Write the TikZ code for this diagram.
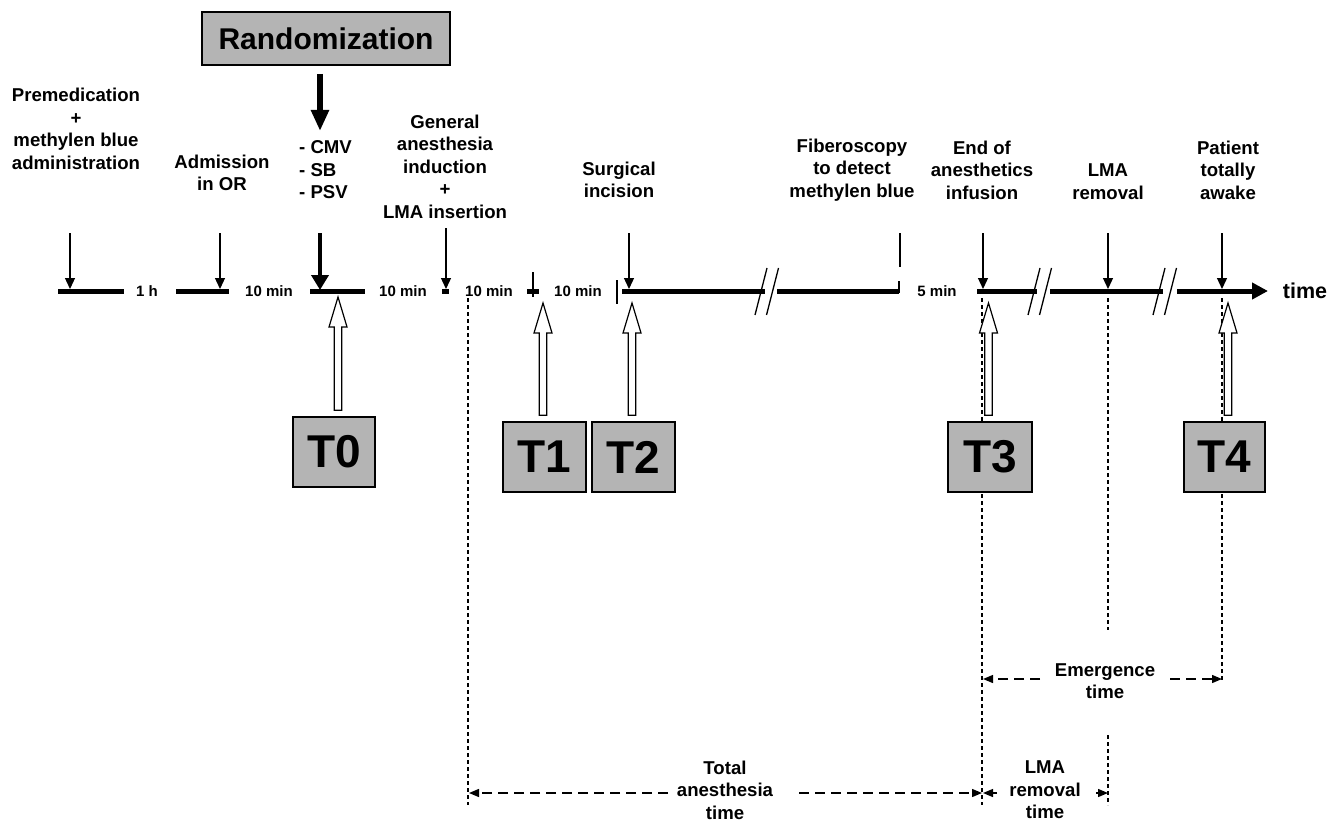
\documentclass[tikz,border=0pt]{standalone}
\usepackage{fontspec}
\setmainfont{Liberation Sans}
\usetikzlibrary{arrows.meta,calc}
\definecolor{boxgray}{RGB}{180,180,180}
\begin{document}
\begin{tikzpicture}[x=1pt,y=-1pt,
  lbl/.style={font=\fontsize{18.6}{22.5}\selectfont\bfseries, align=center, inner sep=0pt},
  dur/.style={font=\fontsize{15}{18}\selectfont\bfseries, inner sep=0pt},
  tbox/.style={draw, fill=boxgray, line width=1.5pt, minimum width=83pt, minimum height=70pt, inner sep=0pt, font=\fontsize{46}{46}\selectfont\bfseries},
  seg/.style={line width=5pt},
  evarrow/.style={line width=1.3pt, -{Triangle[width=10pt,length=11pt]}},
  bigev/.style={line width=4.5pt, -{Triangle[width=17pt,length=15pt]}},
  marker/.style={line width=1.5pt},
  vdash/.style={line width=1.2pt, dash pattern=on 4pt off 3pt},
  dimarrow/.style={line width=1.3pt, dash pattern=on 10pt off 6pt, -{Triangle[width=8pt,length=10pt]}},
  hollow/.style={line width=1.2pt, fill=white, line join=miter}
]
\useasboundingbox[fill=white] (0,0) rectangle (1327,821);

% ---------- top labels ----------
\node[draw, fill=boxgray, line width=1.5pt, minimum width=248pt, minimum height=53pt, inner sep=0pt,
      font=\fontsize{30}{30}\selectfont\bfseries] (rand) at (326,38.5) {Randomization};
\node[lbl] (premed) at (76,129) {Premedication\\+\\methylen blue\\administration};
\node[lbl] (admis) at (222,173) {Admission\\in OR};
\node[lbl, align=left, anchor=west] (modes) at (299,170) {- CMV\\- SB\\- PSV};
\node[lbl] (gai) at (445,166.5) {General\\anesthesia\\induction\\+\\LMA insertion};
\node[lbl] (surg) at (619,180) {Surgical\\incision};
\node[lbl] (fibro) at (852,170) {Fiberoscopy\\to detect\\methylen blue};
\node[lbl] (endan) at (982,170) {End of\\anesthetics\\infusion};
\node[lbl] (lmar) at (1108,181.5) {LMA\\removal};
\node[lbl] (pat) at (1228,170) {Patient\\totally\\awake};

% randomization arrow
\coordinate (r1) at (320,74);
\coordinate (r2) at (320,131);
\draw[line width=6pt, -{Triangle[width=17pt,length=21pt]}] (r1) -- (r2);

% ---------- timeline segments ----------
\draw[seg] (58,291) -- (124,291);
\draw[seg] (176,291) -- (229,291);
\draw[seg] (310,291) -- (365,291);
\draw[seg] (442,291) -- (449,291);
\draw[seg] (527,291) -- (539,291);
\draw[seg] (622,291) -- (765,291);
\draw[seg] (777,291) -- (899,291);
\draw[line width=2pt] (899,293) -- (899,281);
\draw[seg] (977,291) -- (1037,291);
\draw[seg] (1050,291) -- (1163,291);
\draw[seg, -{Triangle[width=16pt,length=16pt]}] (1177,291) -- (1268,291);
\node[font=\fontsize{21.5}{21.5}\selectfont\bfseries, inner sep=0pt] (timelbl) at (1305,291) {time};

% breaks
\foreach \bx in {755,1028,1153}{
  \draw[line width=1.3pt] (\bx,315) -- (\bx+12,268);
  \draw[line width=1.3pt] (\bx+11.5,315) -- (\bx+23.5,268);
}

% duration labels
\node[dur] (d1) at (147,291) {1 h};
\node[dur] (d2) at (269,291) {10 min};
\node[dur] (d3) at (403,291) {10 min};
\node[dur] (d4) at (489,291) {10 min};
\node[dur] (d5) at (578,291) {10 min};
\node[dur] (d6) at (937,291) {5 min};

% ---------- event arrows ----------
\coordinate (e1a) at (70,233);   \coordinate (e1b) at (70,289);
\coordinate (e2a) at (220,233);  \coordinate (e2b) at (220,289);
\coordinate (e3a) at (320,233);  \coordinate (e3b) at (320,290);
\coordinate (e4a) at (446,228);  \coordinate (e4b) at (446,289);
\coordinate (e6a) at (629,233);  \coordinate (e6b) at (629,289);
\coordinate (e8a) at (983,233);  \coordinate (e8b) at (983,289);
\coordinate (e9a) at (1108,233); \coordinate (e9b) at (1108,289);
\coordinate (e10a) at (1222,233); \coordinate (e10b) at (1222,289);
\draw[evarrow] (e1a) -- (e1b);
\draw[evarrow] (e2a) -- (e2b);
\draw[bigev] (e3a) -- (e3b);
\draw[evarrow] (e4a) -- (e4b);
\draw[evarrow] (e6a) -- (e6b);
\draw[evarrow] (e8a) -- (e8b);
\draw[evarrow] (e9a) -- (e9b);
\draw[evarrow] (e10a) -- (e10b);
% markers without heads
\coordinate (m1a) at (533,272); \coordinate (m1b) at (533,297);
\draw[marker] (m1a) -- (m1b);
\coordinate (m2a) at (617,280); \coordinate (m2b) at (617,304);
\draw[marker] (m2a) -- (m2b);
\coordinate (m3a) at (900,233); \coordinate (m3b) at (900,267);
\draw[marker] (m3a) -- (m3b);

% ---------- dashed verticals ----------
\coordinate (v1a) at (468,298);  \coordinate (v1b) at (468,805);
\coordinate (v2a) at (982,298);  \coordinate (v2b) at (982,805);
\coordinate (v3a) at (1108,298); \coordinate (v3b) at (1108,630);
\coordinate (v3c) at (1108,735); \coordinate (v3d) at (1108,805);
\coordinate (v4a) at (1222,298); \coordinate (v4b) at (1222,680);
\draw[vdash] (v1a) -- (v1b);
\draw[vdash] (v2a) -- (v2b);
\draw[vdash] (v3a) -- (v3b);
\draw[vdash] (v3c) -- (v3d);
\draw[vdash] (v4a) -- (v4b);

% ---------- T boxes ----------
\node[tbox, minimum width=82pt, minimum height=70pt] (T0) at (334,452) {T0};
\node[tbox] (T1) at (544.5,457) {T1};
\node[tbox] (T2) at (633.5,457) {T2};
\node[tbox, minimum width=84pt] (T3) at (990,457) {T3};
\node[tbox, minimum width=81pt] (T4) at (1224.5,457) {T4};

% hollow arrows
\coordinate (h0) at (338,297);
\coordinate (h1) at (543,303);
\coordinate (h2) at (632,303);
\coordinate (h3) at (988.5,303);
\coordinate (h4) at (1228,303);
\foreach \b/\t in {T0/h0,T1/h1,T2/h2,T3/h3,T4/h4}{
  \draw[hollow] let \p1=(\b.north), \p2=(\t) in
    (\x2-3.7pt,\y1+6pt) -- (\x2-3.7pt,\y2-30pt) -- (\x2-9pt,\y2-30pt) -- (\x2,\y2)
    -- (\x2+9pt,\y2-30pt) -- (\x2+3.7pt,\y2-30pt) -- (\x2+3.7pt,\y1+6pt) -- cycle;
}

% ---------- interval arrows ----------
\node[lbl] (emerg) at (1105,681) {Emergence\\time};
\coordinate (em1) at (1040,679); \coordinate (em1e) at (983,679);
\coordinate (em2) at (1170,679); \coordinate (em2e) at (1222,679);
\draw[dimarrow] (em1) -- (em1e);
\draw[dimarrow] (em2) -- (em2e);

\node[lbl] (total) at (725,790) {Total\\anesthesia\\time};
\coordinate (ta1) at (668,793); \coordinate (ta1e) at (469,793);
\coordinate (ta2) at (799,793); \coordinate (ta2e) at (982,793);
\draw[dimarrow] (ta1) -- (ta1e);
\draw[dimarrow] (ta2) -- (ta2e);

\node[lbl] (lmat) at (1045,790) {LMA\\removal\\time};
\coordinate (lm1) at (997,793); \coordinate (lm1e) at (983,793);
\coordinate (lm2) at (1096,793); \coordinate (lm2e) at (1108,793);
\draw[line width=1.3pt, -{Triangle[width=8pt,length=10pt]}] (lm1) -- (lm1e);
\draw[line width=1.3pt, -{Triangle[width=8pt,length=10pt]}] (lm2) -- (lm2e);
\end{tikzpicture}
\end{document}
